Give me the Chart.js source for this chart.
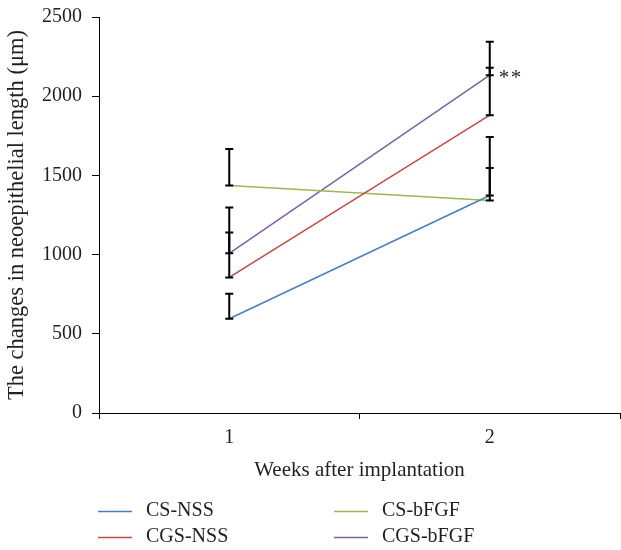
<!DOCTYPE html>
<html lang="en">
<head>
<meta charset="UTF-8">
<title>Neoepithelial length</title>
<script src="https://cdn.jsdelivr.net/npm/chart.js@4"></script>
<style>
  html, body { margin: 0; padding: 0; background: #fff; }
  #wrap { width: 621px; height: 550px; }
</style>
</head>
<body>
<div id="wrap"><canvas id="chart" width="621" height="550"></canvas></div>
<script>
// ---------------------------------------------------------------------------
// Data
// ---------------------------------------------------------------------------
const weeks = ['1', '2'];
const seriesNames = ['CS-NSS', 'CGS-NSS', 'CS-bFGF', 'CGS-bFGF'];
const seriesColors = ['#4a7ebb', '#be4b48', '#98b954', '#7d60a0'];

const csNss    = [595, 1373];
const cgsNss   = [856, 1880];
const csBfgf   = [1437, 1342];
const cgsBfgf  = [1008, 2133];

// upper error bars (SD) only
const csNssErr   = [158, 173];
const cgsNssErr  = [283, 300];
const csBfgfErr  = [229, 400];
const cgsBfgfErr = [289, 210];

const yTicks = [0, 500, 1000, 1500, 2000, 2500];

const values = [csNss, cgsNss, csBfgf, cgsBfgf];
const errors = [csNssErr, cgsNssErr, csBfgfErr, cgsBfgfErr];

const FONT = "'Liberation Serif', 'DejaVu Serif', serif";
const INK = '#231f20';

// ---------------------------------------------------------------------------
// Plugins: error bars, significance mark, legend in two columns
// ---------------------------------------------------------------------------
const errorBars = {
  id: 'errorBars',
  afterDatasetsDraw(chart) {
    const ctx = chart.ctx;
    const y = chart.scales.y;
    ctx.save();
    ctx.strokeStyle = '#000';
    ctx.lineWidth = 2;
    chart.data.datasets.forEach((ds, di) => {
      const meta = chart.getDatasetMeta(di);
      meta.data.forEach((pt, i) => {
        const top = y.getPixelForValue(ds.data[i] + ds.err[i]);
        ctx.beginPath();
        ctx.moveTo(pt.x, pt.y);
        ctx.lineTo(pt.x, top);
        ctx.moveTo(pt.x - 4, top);
        ctx.lineTo(pt.x + 4, top);
        ctx.moveTo(pt.x - 4, pt.y);
        ctx.lineTo(pt.x + 4, pt.y);
        ctx.stroke();
      });
    });
    ctx.restore();
  }
};

const annotations = {
  id: 'annotations',
  afterDraw(chart) {
    const ctx = chart.ctx;
    const meta = chart.getDatasetMeta(3);
    const pt = meta.data[1];
    ctx.save();
    ctx.fillStyle = INK;
    ctx.font = '21px ' + FONT;
    ctx.textBaseline = 'middle';
    ctx.textAlign = 'left';
    ctx.fillText('*', pt.x + 9, pt.y + 3);
    ctx.fillText('*', pt.x + 21, pt.y + 3);
    ctx.restore();
  }
};

const legendGrid = {
  id: 'legendGrid',
  afterDraw(chart) {
    const ctx = chart.ctx;
    // order: row 1 = CS-NSS, CS-bFGF ; row 2 = CGS-NSS, CGS-bFGF
    const cells = [
      { i: 0, x: 98,  y: 511.5 },
      { i: 2, x: 334, y: 511.5 },
      { i: 1, x: 98,  y: 537.5 },
      { i: 3, x: 334, y: 537.5 },
    ];
    ctx.save();
    ctx.font = '20px ' + FONT;
    ctx.textBaseline = 'middle';
    ctx.textAlign = 'left';
    cells.forEach(c => {
      ctx.strokeStyle = seriesColors[c.i];
      ctx.lineWidth = 1.5;
      ctx.beginPath();
      ctx.moveTo(c.x, c.y);
      ctx.lineTo(c.x + 34, c.y);
      ctx.stroke();
      ctx.fillStyle = INK;
      ctx.fillText(seriesNames[c.i], c.x + 48, c.y - 1);
    });
    ctx.restore();
  }
};

// ---------------------------------------------------------------------------
// Chart
// ---------------------------------------------------------------------------
new Chart(document.getElementById('chart'), {
  type: 'line',
  data: {
    labels: weeks,
    datasets: seriesNames.map((name, i) => ({
      label: name,
      data: values[i],
      err: errors[i],
      borderColor: seriesColors[i],
      backgroundColor: seriesColors[i],
      borderWidth: 1.5,
      pointRadius: 0,
      tension: 0,
      fill: false,
    })),
  },
  options: {
    responsive: false,
    animation: false,
    layout: { padding: { top: 17, right: 1, bottom: 0, left: 0 } },
    plugins: {
      legend: { display: false },
      tooltip: { enabled: false },
    },
    scales: {
      x: {
        offset: true,
        afterFit: s => { s.height = 137; },
        grid: {
          offset: true,
          drawOnChartArea: false,
          drawTicks: true,
          tickLength: 6,
          color: '#000',
          lineWidth: 1,
        },
        border: { color: '#000', width: 1 },
        ticks: {
          color: INK,
          font: { family: FONT, size: 20 },
          padding: 7,
        },
        title: {
          display: true,
          text: 'Weeks after implantation',
          color: INK,
          font: { family: FONT, size: 21 },
          padding: { bottom: 67 },
        },
      },
      y: {
        min: 0,
        max: 2500,
        afterFit: s => { s.width = 99; s.paddingTop = 0; s.paddingBottom = 0; },
        afterBuildTicks: s => { s.ticks = yTicks.map(v => ({ value: v })); },
        grid: {
          drawOnChartArea: false,
          drawTicks: true,
          tickLength: 7,
          color: '#000',
        },
        border: { color: '#000', width: 1 },
        ticks: {
          color: INK,
          font: { family: FONT, size: 20 },
          padding: 10,
          callback: v => String(v),
        },
        title: {
          display: true,
          text: 'The changes in neoepithelial length (\u03bcm)',
          color: INK,
          font: { family: FONT, size: 22.5 },
          padding: { top: 4 },
        },
      },
    },
  },
  plugins: [errorBars, annotations, legendGrid],
});
</script>
</body>
</html>
